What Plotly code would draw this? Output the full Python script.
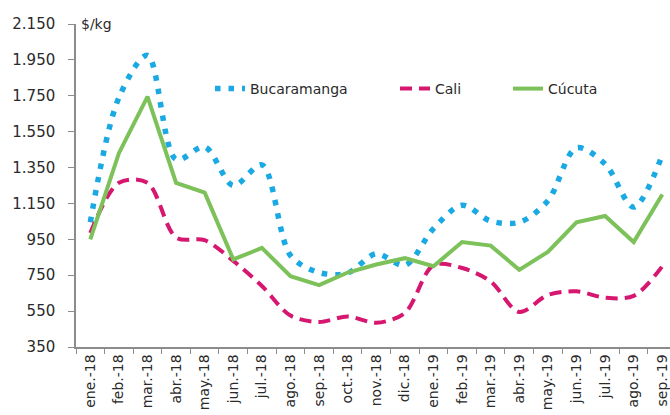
import plotly.graph_objects as go

months = ["ene.-18", "feb.-18", "mar.-18", "abr.-18", "may.-18", "jun.-18", "jul.-18",
          "ago.-18", "sep.-18", "oct.-18", "nov.-18", "dic.-18", "ene.-19", "feb.-19",
          "mar.-19", "abr.-19", "may.-19", "jun.-19", "jul.-19", "ago.-19", "sep.-19"]

bucaramanga = [1045, 1740, 1975, 1395, 1465, 1250, 1365, 860, 765, 762, 870, 805,
               1010, 1140, 1052, 1045, 1165, 1460, 1370, 1130, 1420]
cali = [985, 1265, 1265, 960, 945, 830, 690, 525, 490, 520, 485, 540,
        805, 790, 715, 545, 640, 660, 625, 635, 800]
cucuta = [950, 1430, 1745, 1265, 1210, 838, 902, 745, 695, 765, 810, 845,
          800, 935, 915, 780, 880, 1045, 1080, 935, 1200]

y_ticks = [350, 550, 750, 950, 1150, 1350, 1550, 1750, 1950, 2150]
y_tick_text = ["350", "550", "750", "950", "1.150", "1.350", "1.550", "1.750", "1.950", "2.150"]

FONT = "DejaVu Sans"
TXT = "#2a2a2a"

# plot area in pixels: x 76..670, y 24..347
def px(xp):
    return (xp - 76) / 594

def py(yp):
    return (347 - yp) / 323

fig = go.Figure()
fig.add_trace(go.Scatter(x=months, y=bucaramanga, name="Bucaramanga", mode="lines",
                         line=dict(color="#1AA9E3", width=5.5, dash="5.5px,8px", shape="spline",
                                   smoothing=0.9),
                         legend="legend", showlegend=True))
fig.add_trace(go.Scatter(x=months, y=cali, name="Cali", mode="lines",
                         line=dict(color="#D6166F", width=4, dash="12px,7px", shape="spline",
                                   smoothing=0.9),
                         legend="legend2", showlegend=True))
fig.add_trace(go.Scatter(x=months, y=cucuta, name="Cúcuta", mode="lines",
                         line=dict(color="#7DC15A", width=4),
                         legend="legend3", showlegend=True))

leg_common = dict(xref="paper", yref="paper", yanchor="middle", xanchor="left",
                  orientation="h", bgcolor="rgba(0,0,0,0)",
                  font=dict(family=FONT, size=14, color=TXT))

fig.update_layout(
    width=670, height=415,
    showlegend=True,
    margin=dict(l=76, r=0, t=24, b=68),
    plot_bgcolor="white", paper_bgcolor="white",
    font=dict(family=FONT, size=14, color=TXT),
    legend=dict(x=px(210), y=py(89), **leg_common),
    legend2=dict(x=px(395), y=py(89), **leg_common),
    legend3=dict(x=px(508), y=py(89), **leg_common),
    xaxis=dict(type="category", range=[-0.5, 20.27], showgrid=False,
               showline=True, linecolor="#8c8c8c", linewidth=1.5,
               ticks="outside", tickson="boundaries", ticklen=5, tickcolor="#8c8c8c",
               tickangle=-90, automargin=False,
               tickfont=dict(family=FONT, size=14, color=TXT)),
    yaxis=dict(range=[350, 2150], tickvals=y_ticks, ticktext=y_tick_text,
               showgrid=False, zeroline=False,
               showline=True, linecolor="#8c8c8c", linewidth=1.5,
               ticks="outside", ticklen=6, tickcolor="#8c8c8c",
               ticklabelstandoff=10, automargin=False,
               tickfont=dict(family=FONT, size=15, color=TXT)),
)

fig.add_annotation(text="$/kg", xref="paper", yref="paper",
                   x=px(79), y=1.0, xanchor="left", yanchor="middle",
                   showarrow=False, font=dict(family=FONT, size=14, color=TXT))

fig.write_html("out.html", config={"displayModeBar": False},
               post_script="document.body.style.margin='0px';document.body.style.padding='0px';")
